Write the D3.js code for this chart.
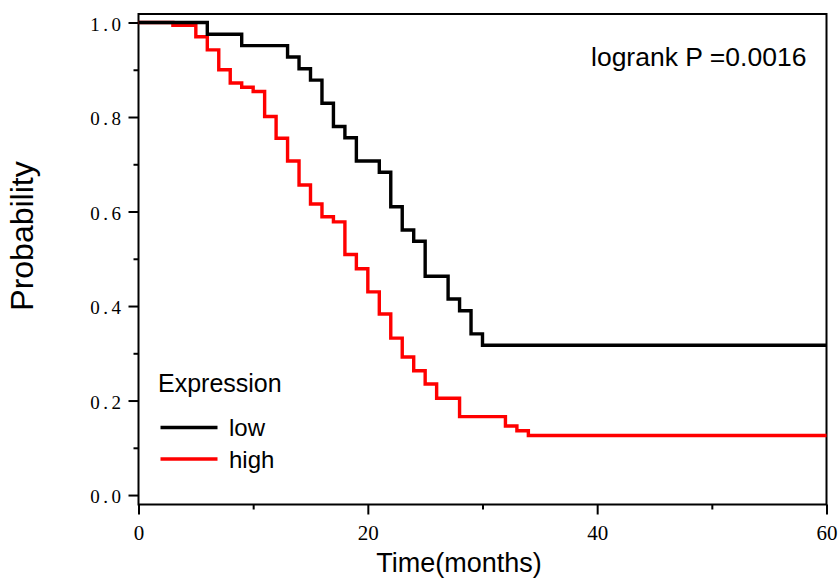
<!DOCTYPE html>
<html>
<head>
<meta charset="utf-8">
<script src="https://cdn.jsdelivr.net/npm/d3@7"></script>
<style>
  body { margin: 0; background: #fff; }
</style>
</head>
<body>
<div id="chart"></div>
<script>
// Kaplan-Meier estimates
const lowTime = [0, 6, 9, 13, 14, 15, 16, 17, 18, 19, 21, 22, 23, 24, 25, 27, 28, 29, 30, 60];
const lowSurv = [1, 0.975, 0.951, 0.927, 0.902, 0.878, 0.829, 0.780, 0.756, 0.707, 0.683, 0.610, 0.561, 0.537, 0.463, 0.415, 0.390, 0.341, 0.317, 0.317];

const highTime = [0, 3, 5, 6, 7, 8, 9, 10, 11, 12, 13, 14, 15, 16, 17, 18, 19, 20, 21, 22, 23, 24, 25, 26, 28, 32, 33, 34, 60];
const highSurv = [1, 0.994, 0.970, 0.942, 0.900, 0.872, 0.863, 0.854, 0.801, 0.755, 0.707, 0.656, 0.616, 0.589, 0.578, 0.509, 0.479, 0.430, 0.383, 0.332, 0.292, 0.263, 0.235, 0.205, 0.166, 0.146, 0.136, 0.126, 0.126];

const xTicks = [0, 20, 40, 60];
const xMinorTicks = [10, 30, 50];
const yTicks = [0, 0.2, 0.4, 0.6, 0.8, 1.0];
const yMinorTicks = [0.1, 0.3, 0.5, 0.7, 0.9];

const groupNames = ["low", "high"];
const groupColors = ["#000000", "#ff0000"];

const width = 838, height = 579;
const margin = { top: 14, right: 11.5, bottom: 74.5, left: 138.5 };

const svg = d3.select("#chart")
  .append("svg")
  .attr("width", width)
  .attr("height", height);

const x = d3.scaleLinear()
  .domain([0, 60])
  .range([margin.left, width - margin.right]);

const y = d3.scaleLinear()
  .domain([-0.02, 1.018])
  .range([height - margin.bottom, margin.top]);

// x axis: major + minor ticks
const xAxis = svg.append("g")
  .attr("transform", `translate(0, ${height - margin.bottom})`)
  .call(d3.axisBottom(x).tickValues(xTicks).tickSize(10).tickSizeOuter(0).tickPadding(11).tickFormat(d3.format("d")));

svg.append("g")
  .attr("transform", `translate(0, ${height - margin.bottom})`)
  .call(d3.axisBottom(x).tickValues(xMinorTicks).tickSize(5).tickSizeOuter(0).tickFormat(""));

// y axis: major + minor ticks
const yAxis = svg.append("g")
  .attr("transform", `translate(${margin.left}, 0)`)
  .call(d3.axisLeft(y).tickValues(yTicks).tickSize(10).tickSizeOuter(0).tickPadding(4).tickFormat(d3.format(".1f")));

svg.append("g")
  .attr("transform", `translate(${margin.left}, 0)`)
  .call(d3.axisLeft(y).tickValues(yMinorTicks).tickSize(5).tickSizeOuter(0).tickFormat(""));

svg.selectAll(".domain").remove();
svg.selectAll(".tick line").attr("stroke", "#000").attr("stroke-width", 2);

xAxis.selectAll("text")
  .style("font-family", "'Liberation Serif', serif")
  .style("font-size", "21px")
  .attr("fill", "#000");

yAxis.selectAll("text")
  .style("font-family", "'Liberation Serif', serif")
  .style("font-size", "19px")
  .style("letter-spacing", "3.5px")
  .attr("dy", "0.4em")
  .attr("fill", "#000");

// plot frame
svg.append("rect")
  .attr("x", margin.left)
  .attr("y", margin.top)
  .attr("width", width - margin.left - margin.right)
  .attr("height", height - margin.top - margin.bottom)
  .attr("fill", "none")
  .attr("stroke", "#000")
  .attr("stroke-width", 2);

// survival curves
const series = [
  { name: "high", values: highTime.map((t, i) => ({ t, s: highSurv[i] })) },
  { name: "low", values: lowTime.map((t, i) => ({ t, s: lowSurv[i] })) }
];

const color = d3.scaleOrdinal().domain(groupNames).range(groupColors);

const line = d3.line()
  .x(d => x(d.t))
  .y(d => y(d.s))
  .curve(d3.curveStepAfter);

svg.selectAll("myLines")
  .data(series)
  .enter()
  .append("path")
  .attr("d", d => line(d.values))
  .attr("stroke", d => color(d.name))
  .attr("stroke-width", 3.4)
  .attr("stroke-linejoin", "miter")
  .attr("fill", "none");

// legend
const legend = svg.append("g")
  .style("font-family", "'Liberation Sans', Arial, sans-serif");

legend.append("text")
  .attr("x", 158)
  .attr("y", 391.5)
  .style("font-size", "25px")
  .text("Expression");

legend.selectAll("myLegendLines")
  .data(groupNames)
  .enter()
  .append("line")
  .attr("x1", 160.5)
  .attr("x2", 217.5)
  .attr("y1", (d, i) => 427.5 + i * 31.5)
  .attr("y2", (d, i) => 427.5 + i * 31.5)
  .attr("stroke", d => color(d))
  .attr("stroke-width", 3.4);

legend.selectAll("myLegendText")
  .data(groupNames)
  .enter()
  .append("text")
  .attr("x", 229)
  .attr("y", (d, i) => 436 + i * 32)
  .style("font-size", "24px")
  .text(d => d);

// annotation
svg.append("text")
  .attr("x", 591)
  .attr("y", 65.5)
  .style("font-family", "'Liberation Sans', Arial, sans-serif")
  .style("font-size", "26.5px")
  .text("logrank P =0.0016");

// axis titles
svg.append("text")
  .attr("transform", "translate(33, 236) rotate(-90)")
  .attr("text-anchor", "middle")
  .style("font-family", "'Liberation Sans', Arial, sans-serif")
  .style("font-size", "32px")
  .text("Probability");

svg.append("text")
  .attr("x", 459)
  .attr("y", 571.5)
  .attr("text-anchor", "middle")
  .style("font-family", "'Liberation Sans', Arial, sans-serif")
  .style("font-size", "27px")
  .text("Time(months)");
</script>
</body>
</html>
